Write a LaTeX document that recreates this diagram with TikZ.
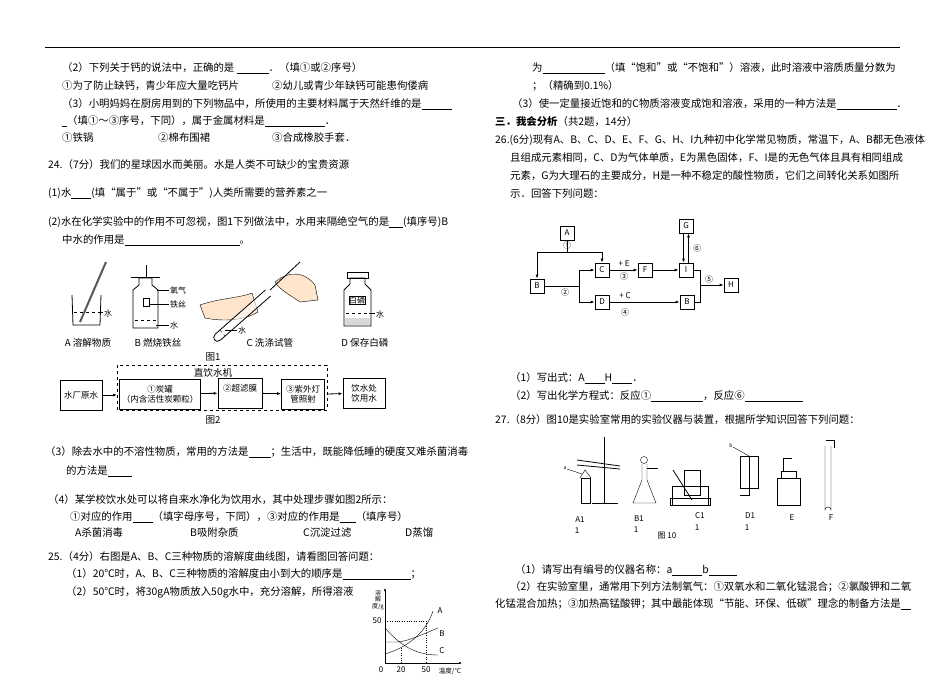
\documentclass[tikz,border=0pt]{standalone}
\usepackage{fontspec}
\setmainfont{Noto Sans CJK SC}
\usetikzlibrary{arrows.meta}
\newcommand{\bl}[1]{\rule[-2pt]{#1pt}{0.5pt}}
\begin{document}
\begin{tikzpicture}[x=1pt,y=-1pt,
  t/.style={anchor=west,inner sep=0pt,font=\fontsize{10.4}{11}\selectfont},
  c/.style={inner sep=0pt,font=\fontsize{9.6}{11}\selectfont},
  sm/.style={inner sep=0pt,font=\fontsize{8}{9}\selectfont},
  bx/.style={draw,thick,minimum width=14pt,minimum height=14pt,inner sep=0pt,font=\fontsize{8}{9}\selectfont},
  fb/.style={draw,thick,inner sep=2pt,align=center,font=\fontsize{8.5}{10}\selectfont},
  ar/.style={-{Latex[length=4pt]},thick},
  ln/.style={thin}]
\useasboundingbox (0,0) rectangle (950,675);
\fill[white] (0,0) rectangle (950,675);
\coordinate (r1) at (45,47); \coordinate (r2) at (900,47);
\draw[thin] (r1) -- (r2);
% ---------------- left column
\node[t] (l1) at (62,68) {（2）下列关于钙的说法中，正确的是 \bl{32}．（填①或②序号）};
\node[t] (l2) at (62,86) {①为了防止缺钙，青少年应大量吃钙片};
\node[t] (l2b) at (272,86) {②幼儿或青少年缺钙可能患佝偻病};
\node[t] (l3) at (62,104) {（3）小明妈妈在厨房用到的下列物品中，所使用的主要材料属于天然纤维的是\bl{30}};
\node[t] (l4) at (62,121) {\bl{5}（填①～③序号，下同），属于金属材料是\bl{60}．};
\node[t] (l5) at (62,138) {①铁锅};
\node[t] (l5b) at (158,138) {②棉布围裙};
\node[t] (l5c) at (272,138) {③合成橡胶手套．};
\node[t] (l6) at (48,165) {24.（7分）我们的星球因水而美丽。水是人类不可缺少的宝贵资源};
\node[t] (l7) at (48,193) {(1)水\bl{20}(填“属于”或“不属于”)人类所需要的营养素之一};
\node[t] (l8) at (48,222) {(2)水在化学实验中的作用不可忽视，图1下列做法中，水用来隔绝空气的是\bl{14}(填序号)B};
\node[t] (l9) at (62,240) {中水的作用是\bl{115}。};
% figure 1 sketches
\draw[thick] (72,295) -- (73,325) -- (100,325) -- (101,295);
\draw[dashed] (74,312) -- (99,312);
\draw[line width=2pt,gray!70!black] (80,322) -- (106,262);
\draw[ln] (98,312) -- (103,312);
\node[sm,anchor=west] (wa) at (104,313) {水};
\draw[thick] (133,290) -- (133,328) -- (158,328) -- (158,290) -- (152,285) -- (152,278) -- (139,278) -- (139,285) -- cycle;
\draw[thick] (131,277) -- (160,277);
\draw (146,277) -- (146,265);
\draw (143,298) rectangle (149,306);
\draw[dashed] (135,320) -- (156,320);
\node[sm,anchor=west] (wb1) at (170,290) {氧气};
\node[sm,anchor=west] (wb2) at (170,304) {铁丝};
\node[sm,anchor=west] (wb3) at (170,325) {水};
\draw[ln] (157,290) -- (169,290); \draw[ln] (149,304) -- (169,304); \draw[ln] (156,325) -- (169,325);
% test tube with hands
\fill[orange!20] (200,305) .. controls (220,298) and (240,298) .. (252,293) -- (258,312) .. controls (245,320) and (225,322) .. (205,318) -- cycle;
\draw (200,305) .. controls (220,298) and (240,298) .. (252,293) -- (258,312) .. controls (245,320) and (225,322) .. (205,318) -- cycle;
\draw[thick,fill=white,fill opacity=0.6] (265.4,290) -- (215.4,334) .. controls (211,338) and (216,344) .. (220.6,340) -- (270.6,296);
\draw[dashed] (220,330) -- (225,336);
\fill[orange!20] (275,282) .. controls (290,270) and (305,272) .. (315,285) -- (318,300) -- (300,302) .. controls (290,295) and (280,290) .. (275,282);
\draw (275,282) .. controls (290,270) and (305,272) .. (315,285) -- (318,300) -- (300,302) .. controls (290,295) and (280,290) .. (275,282);
\draw[thick] (270,290) -- (300,262);
\node[sm,anchor=west] (wc) at (238,330) {水};
\draw[ln] (225,330) -- (237,330);
\draw[thick] (344,290) -- (344,326) -- (371,326) -- (371,290) -- (365,284) -- (365,278) -- (350,278) -- (350,284) -- cycle;
\draw[thick] (347,272) rectangle (368,278);
\node[sm,draw] (bl) at (357,300) {白磷};
\draw[dashed] (346,313) -- (369,313);
\fill[gray!30] (345,318) rectangle (370,325);
\draw[ln] (369,313) -- (375,313);
\node[sm,anchor=west] (wd) at (376,314) {水};
\node[c] (fa) at (88,343) {A 溶解物质};
\node[c] (fb) at (158,343) {B 燃烧铁丝};
\node[c] (fc) at (270,343) {C 洗涤试管};
\node[c] (fd) at (365,343) {D 保存白磷};
\node[c] (f1) at (213,357) {图1};
% figure 2
\draw[dashed] (117,365) rectangle (327,410);
\node[c] (zy) at (213,373) {直饮水机};
\node[fb,minimum width=42pt,minimum height=30pt] (s0) at (81,395) {水厂原水};
\node[fb,minimum width=80pt,minimum height=30pt] (s1) at (160,394) {①炭罐\\（内含活性炭颗粒）};
\node[fb,minimum width=44pt,minimum height=30pt,anchor=center] (s2) at (240,393) {②超滤膜\\ \ };
\node[fb,minimum width=43pt,minimum height=30pt] (s3) at (303,394) {③紫外灯\\管照射};
\node[fb,minimum width=42pt,minimum height=30pt] (s4) at (364,393) {饮水处\\饮用水};
\draw[ar] (s0) -- (117,395);
\draw[ar] (s1) -- (s2);
\draw[ar] (s2) -- (s3);
\draw[ar] (327,394) -- (s4);
\node[c] (f2) at (213,420) {图2};
\node[t] (l10) at (45,452) {（3）除去水中的不溶性物质，常用的方法是\bl{22}；生活中，既能降低睡的硬度又难杀菌消毒};
\node[t] (l11) at (66,471) {的方法是\bl{24}};
\node[t] (l12) at (48,500) {（4）某学校饮水处可以将自来水净化为饮用水，其中处理步骤如图2所示：};
\node[t] (l13) at (70,517) {①对应的作用\bl{20}（填字母序号，下同），③对应的作用是\bl{16}（填序号）};
\node[t] (l14) at (75,533) {A杀菌消毒};
\node[t] (l14b) at (190,533) {B吸附杂质};
\node[t] (l14c) at (303,533) {C沉淀过滤};
\node[t] (l14d) at (405,533) {D蒸馏};
\node[t] (l15) at (48,557) {25.（4分）右图是A、B、C三种物质的溶解度曲线图，请看图回答问题：};
\node[t] (l16) at (66,574) {（1）20℃时，A、B、C三种物质的溶解度由小到大的顺序是\bl{68}；};
\node[t] (l17) at (66,592) {（2）50℃时，将30gA物质放入50g水中，充分溶解，所得溶液};
% graph
\coordinate (o) at (385,663);
\draw[-{Latex[length=3pt]}] (o) -- (385,588);
\draw[-{Latex[length=3pt]}] (o) -- (462,663);
\draw[dotted] (385,621) -- (426,621) -- (426,663);
\draw[dotted] (401,648) -- (401,663);
\draw (385,654) .. controls (405,648) and (425,635) .. (433,611);
\draw (385,642) -- (397,642) .. controls (410,641) and (425,633) .. (438,628);
\draw (385,628) .. controls (400,645) and (415,655) .. (438,655);
\node[sm] (ga) at (440,611) {A};
\node[sm] (gb) at (442,634) {B};
\node[sm] (gc) at (442,651) {C};
\node[sm] (g50) at (377,621) {50};
\node[sm] (g0) at (381,670) {0};
\node[sm] (g20) at (401,670) {20};
\node[sm] (g5) at (426,670) {50};
\node[sm,font=\fontsize{6}{6.5}\selectfont,align=center] (gy) at (378,600) {溶\\解\\度/g};
\node[sm,font=\fontsize{6.5}{7}\selectfont] (gx) at (450,671) {温度/℃};
% ---------------- right column
\node[t] (r1t) at (532,68) {为\bl{62}（填“饱和”或“不饱和”）溶液，此时溶液中溶质质量分数为};
\node[t] (r2t) at (532,86) {；（精确到0.1\%）};
\node[t] (r3t) at (512,104) {（3）使一定量接近饱和的C物质溶液变成饱和溶液，采用的一种方法是\bl{60}．};
\node[t] (r4t) at (495,122) {\textbf{三．我会分析}（共2题，14分）};
\node[t] (r5t) at (495,140) {26.(6分)现有A、B、C、D、E、F、G、H、I九种初中化学常见物质，常温下，A、B都无色液体};
\node[t] (r6t) at (510,158) {且组成元素相同，C、D为气体单质，E为黑色固体，F、I是的无色气体且具有相同组成};
\node[t] (r7t) at (510,176) {元素，G为大理石的主要成分，H是一种不稳定的酸性物质，它们之间转化关系如图所};
\node[t] (r8t) at (510,194) {示．回答下列问题：};
% reaction diagram
\node[bx] (A) at (567,233) {A};
\node[bx] (B) at (537,286) {B};
\node[bx] (C) at (602,270) {C};
\node[bx] (F) at (645,270) {F};
\node[bx] (I) at (686,270) {I};
\node[bx] (G) at (686,226) {G};
\node[bx] (D) at (602,302) {D};
\node[bx] (B2) at (687,302) {B};
\node[bx] (H) at (731,285) {H};
\coordinate (a1) at (567,252);
\draw (A) -- (a1);
\draw[ar] (a1) -| (B);
\draw[ar] (a1) -| (C);
\coordinate (b1) at (579,286);
\draw (B) -- (b1);
\draw[ar] (b1) |- (C);
\draw[ar] (b1) |- (D);
\draw[ar] (C) -- (F);
\draw[ar] (F) -- (I);
\draw[ar] ([xshift=-2.5pt]G.south) -- ([xshift=-2.5pt]I.north);
\draw[ar] ([xshift=2.5pt]I.north) -- ([xshift=2.5pt]G.south);
\draw[ar] (D) -- (B2);
\coordinate (j1) at (700,285);
\draw (I) -| (j1);
\draw (B2) -| (j1);
\draw[ar] (j1) -- (H);
\node[sm] (n1) at (567,245) {①};
\node[sm] (n2) at (565,292) {②};
\node[sm] (n3) at (624,276) {③};
\node[sm] (n3e) at (624,264) {+ E};
\node[sm] (n4) at (625,312) {④};
\node[sm] (n4c) at (625,296) {+ C};
\node[sm] (n5) at (709,279) {⑤};
\node[sm] (n6) at (697,248) {⑥};
\node[t] (r9t) at (510,378) {（1）写出式：A\bl{20}H\bl{20}．};
\node[t] (r10t) at (510,396) {（2）写出化学方程式：反应①\bl{52}，反应⑥\bl{58}};
\node[t] (r11t) at (495,420) {27.（8分）图10是实验室常用的实验仪器与装置，根据所学知识回答下列问题：};
% figure 10 sketches
\draw[thick] (604,437) -- (604,503);
\draw[thick] (592,503) -- (618,503);
\draw[thick] (577,460) -- (620,466);
\draw[thick] (577,465) -- (620,469);
\draw (581,478) rectangle (590,503);
\draw (580,478) -- (585,470) -- (591,478);
\node[sm,font=\fontsize{5}{5}\selectfont] (la) at (565,468) {a};
\draw[ln] (567,469) -- (582,474);
\draw (644,460) circle (3.5);
\draw (642,464) -- (642,480) -- (633,503) -- (656,503) -- (647,480) -- (647,464);
\draw (647,468) -- (658,468);
\draw (670,498) rectangle (710,505);
\draw (672,486) rectangle (708,505);
\draw (684,470) rectangle (700,495);
\draw[thick] (673,470) -- (692,500);
\draw (740,456) rectangle (758,488);
\draw (749,456) -- (749,495) -- (740,495);
\node[sm,font=\fontsize{5}{5}\selectfont] (lb) at (731,446) {b};
\draw[ln] (733,447) -- (749,456);
\draw (777,478) rectangle (800,505);
\draw (781,478) -- (781,471) -- (796,471) -- (796,478);
\draw (783,471) -- (783,458) -- (792,458);
\draw (825,446) -- (825,510) arc (180:360:3) -- (831,446);
\draw[thick] (826,440) -- (834,440) -- (834,448);
\node[c,font=\fontsize{8}{9}\selectfont] (ka) at (580,520) {A1};
\node[c,font=\fontsize{8}{9}\selectfont] (ka1) at (577,531) {1};
\node[c,font=\fontsize{8}{9}\selectfont] (kb) at (639,519) {B1};
\node[c,font=\fontsize{8}{9}\selectfont] (kb1) at (636,530) {1};
\node[c,font=\fontsize{8}{9}\selectfont] (kc) at (700,516) {C1};
\node[c,font=\fontsize{8}{9}\selectfont] (kc1) at (697,528) {1};
\node[c,font=\fontsize{8}{9}\selectfont] (kd) at (750,516) {D1};
\node[c,font=\fontsize{8}{9}\selectfont] (kd1) at (747,528) {1};
\node[c,font=\fontsize{8}{9}\selectfont] (ke) at (792,518) {E};
\node[c,font=\fontsize{8}{9}\selectfont] (kf) at (831,518) {F};
\node[c,font=\fontsize{8}{9}\selectfont] (k10) at (667,536) {图 10};
\node[t] (r12t) at (515,570) {（1）请写出有编号的仪器名称：a\bl{30}b\bl{28}};
\node[t] (r13t) at (510,587) {（2）在实验室里，通常用下列方法制氧气：①双氧水和二氧化锰混合；②氯酸钾和二氧};
\node[t] (r14t) at (495,604) {化锰混合加热；③加热高锰酸钾；其中最能体现“节能、环保、低碳”理念的制备方法是\bl{10}};
\end{tikzpicture}
\end{document}
